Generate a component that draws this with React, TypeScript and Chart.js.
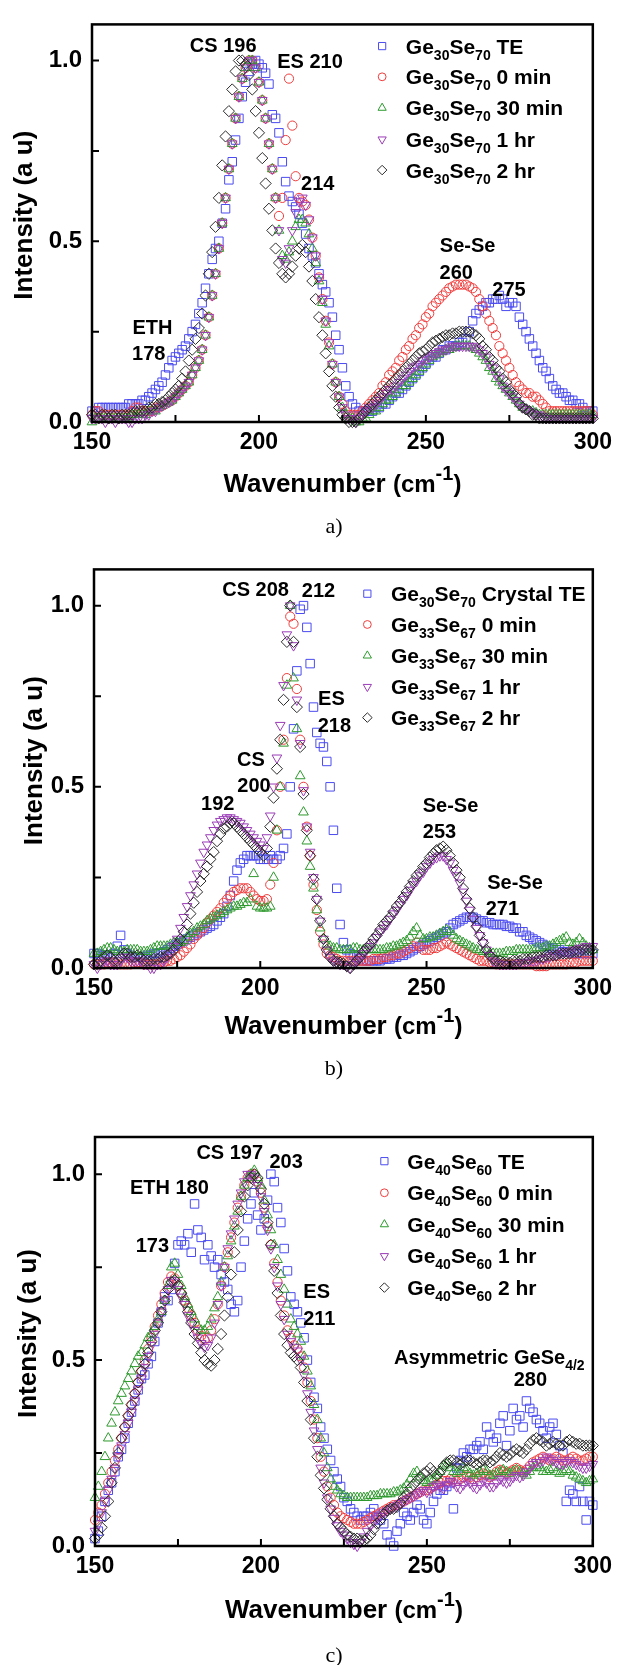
import React, { useEffect, useRef } from 'react';
import { Chart, registerables } from 'chart.js';

Chart.register(...registerables);

const FONT = "'Liberation Sans', Arial, Helvetica, sans-serif";
const SERIF = "'Liberation Serif', 'Times New Roman', serif";

// Raman shift grid (cm-1)
const WAVENUMBER = [
  150,151,152,153,154,155,156,157,158,159,160,161,162,163,164,165,166,167,168,169,
  170,171,172,173,174,175,176,177,178,179,180,181,182,183,184,185,186,187,188,189,
  190,191,192,193,194,195,196,197,198,199,200,201,202,203,204,205,206,207,208,209,
  210,211,212,213,214,215,216,217,218,219,220,221,222,223,224,225,226,227,228,229,
  230,231,232,233,234,235,236,237,238,239,240,241,242,243,244,245,246,247,248,249,
  250,251,252,253,254,255,256,257,258,259,260,261,262,263,264,265,266,267,268,269,
  270,271,272,273,274,275,276,277,278,279,280,281,282,283,284,285,286,287,288,289,
  290,291,292,293,294,295,296,297,298,299,300,
];

// ---------- Panel a : Ge30Se70 ----------
const A_TE = [
  .03,.03,.04,.04,.04,.04,.04,.04,.04,.04,
  .04,.05,.05,.05,.05,.06,.06,.07,.08,.09,
  .10,.11,.13,.15,.17,.18,.19,.20,.21,.23,
  .25,.27,.30,.33,.37,.41,.45,.48,.50,.55,
  .59,.67,.72,.78,.84,.90,.94,.97,.99,1.00,
  .99,.98,.965,.935,.85,.84,.80,.72,.665,.625,
  .61,.595,.575,.55,.52,.48,.46,.44,.41,.38,
  .36,.33,.29,.24,.20,.15,.10,.07,.05,.04,
  .03,.03,.03,.03,.03,.04,.04,.05,.05,.06,
  .07,.08,.08,.09,.10,.11,.12,.13,.14,.15,
  .16,.17,.18,.18,.19,.20,.20,.21,.21,.21,
  .22,.22,.23,.25,.28,.30,.31,.32,.33,.33,
  .34,.34,.35,.34,.32,.33,.33,.32,.29,.27,
  .25,.23,.21,.19,.17,.15,.14,.12,.10,.09,
  .08,.08,.07,.06,.06,.05,.05,.04,.03,.03,
  .03,
];
const A_0MIN = [
  .02,.03,.03,.02,.02,.02,.02,.02,.02,.02,
  .02,.02,.03,.04,.04,.03,.03,.03,.03,.04,
  .04,.045,.05,.055,.06,.07,.08,.09,.10,.11,
  .13,.15,.17,.20,.24,.29,.35,.41,.48,.55,
  .62,.70,.77,.84,.90,.95,.98,1.00,1.00,.98,
  .94,.89,.84,.77,.70,.62,.57,.62,.78,.95,
  .82,.68,.62,.61,.60,.56,.51,.46,.40,.34,
  .28,.22,.16,.11,.07,.05,.03,.02,.02,.02,
  .02,.03,.04,.05,.06,.07,.08,.10,.11,.13,
  .14,.15,.17,.18,.20,.21,.23,.24,.26,.27,
  .29,.30,.32,.33,.34,.35,.36,.37,.375,.38,
  .38,.38,.38,.375,.37,.36,.34,.32,.30,.28,
  .26,.24,.21,.19,.17,.15,.13,.11,.10,.09,
  .08,.08,.07,.07,.06,.05,.04,.03,.03,.03,
  .03,.03,.03,.03,.03,.03,.03,.03,.03,.03,
  .02,
];
const A_30MIN = [
  .00,.01,.01,.01,.01,.01,.01,.01,.01,.01,
  .01,.01,.02,.02,.02,.02,.02,.03,.03,.03,
  .04,.045,.05,.055,.06,.07,.08,.09,.10,.11,
  .13,.15,.17,.20,.24,.29,.35,.41,.48,.55,
  .62,.70,.77,.84,.90,.95,.98,1.00,1.00,.98,
  .94,.89,.84,.77,.70,.62,.53,.46,.45,.47,
  .50,.54,.56,.56,.55,.52,.48,.44,.39,.33,
  .27,.21,.16,.11,.07,.04,.02,.01,.01,.00,
  .00,.01,.01,.02,.03,.03,.04,.05,.06,.06,
  .07,.08,.09,.10,.10,.11,.12,.13,.14,.15,
  .16,.17,.18,.185,.19,.195,.20,.20,.205,.21,
  .21,.21,.21,.21,.205,.20,.19,.18,.17,.15,
  .14,.12,.11,.10,.09,.08,.07,.06,.05,.04,
  .035,.03,.03,.025,.02,.02,.02,.02,.02,.02,
  .02,.02,.02,.02,.02,.02,.02,.02,.02,.02,
  .02,
];
const A_1HR = [
  .01,.01,.01,.01,.00,.01,.01,.00,.01,.01,
  .01,.00,.00,.01,.01,.01,.02,.02,.03,.03,
  .04,.045,.05,.055,.06,.07,.08,.09,.10,.11,
  .13,.15,.17,.20,.24,.29,.35,.41,.48,.55,
  .62,.70,.77,.84,.90,.95,.98,1.00,1.00,.98,
  .94,.89,.84,.77,.70,.62,.53,.45,.44,.48,
  .53,.58,.61,.62,.60,.56,.51,.46,.40,.34,
  .28,.22,.16,.11,.07,.04,.02,.01,.01,.00,
  .01,.02,.03,.04,.04,.05,.06,.07,.08,.09,
  .09,.10,.11,.12,.13,.14,.15,.155,.16,.17,
  .175,.18,.185,.19,.195,.20,.20,.205,.21,.21,
  .21,.21,.21,.21,.21,.205,.20,.19,.18,.16,
  .15,.13,.12,.10,.09,.08,.07,.06,.05,.04,
  .035,.03,.025,.02,.02,.015,.01,.01,.01,.01,
  .01,.01,.01,.01,.01,.01,.01,.01,.01,.01,
  .01,
];
const A_2HR = [
  .02,.02,.01,.02,.02,.01,.02,.02,.01,.02,
  .02,.02,.02,.03,.03,.03,.03,.04,.04,.05,
  .05,.055,.06,.07,.08,.09,.10,.12,.14,.17,
  .20,.23,.26,.30,.35,.41,.47,.54,.62,.71,
  .79,.86,.92,.97,1.00,1.00,.99,.96,.92,.86,
  .80,.73,.66,.59,.53,.48,.44,.41,.40,.41,
  .43,.46,.48,.49,.47,.43,.39,.34,.29,.24,
  .19,.14,.10,.07,.04,.02,.01,.00,.00,.00,
  .01,.02,.03,.04,.05,.06,.07,.08,.09,.10,
  .11,.12,.13,.14,.15,.16,.17,.18,.19,.195,
  .20,.21,.22,.225,.23,.235,.24,.24,.245,.245,
  .25,.25,.25,.25,.245,.24,.23,.21,.20,.18,
  .17,.15,.14,.12,.11,.09,.08,.07,.05,.04,
  .035,.03,.02,.02,.01,.01,.01,.01,.01,.01,
  .01,.01,.01,.01,.01,.01,.01,.01,.01,.01,
  .01,
];

// ---------- Panel b : Ge30Se70 crystal / Ge33Se67 ----------
const B_TE = [
  .04,.04,.035,.035,.035,.03,.04,.06,.09,.05,
  .04,.035,.03,.03,.03,.03,.035,.035,.04,.04,
  .04,.045,.05,.055,.06,.065,.07,.075,.08,.085,
  .09,.095,.10,.105,.11,.115,.12,.13,.14,.15,
  .17,.20,.24,.27,.29,.30,.31,.31,.31,.31,
  .30,.30,.30,.31,.30,.30,.31,.33,.37,.50,
  .66,.82,.99,1.00,.94,.84,.72,.65,.62,.61,
  .57,.50,.38,.22,.12,.07,.05,.04,.035,.03,
  .025,.02,.02,.02,.02,.02,.02,.025,.025,.025,
  .03,.03,.035,.035,.04,.045,.05,.055,.06,.065,
  .07,.075,.08,.085,.09,.095,.10,.11,.12,.125,
  .13,.135,.14,.14,.14,.135,.13,.13,.125,.125,
  .12,.12,.12,.12,.115,.115,.11,.11,.10,.10,
  .09,.085,.08,.075,.07,.065,.06,.055,.055,.05,
  .05,.045,.045,.045,.04,.04,.04,.04,.04,.04,
  .04,
];
const B_0MIN = [
  .01,.01,.01,.01,.015,.015,.015,.01,.01,.01,
  .01,.01,.015,.015,.015,.01,.01,.01,.01,.01,
  .015,.015,.02,.02,.025,.03,.035,.045,.055,.065,
  .08,.09,.10,.11,.125,.135,.145,.155,.165,.18,
  .19,.20,.21,.215,.22,.22,.22,.21,.20,.19,
  .185,.185,.19,.23,.29,.38,.50,.63,.80,.97,
  .95,.77,.63,.50,.39,.31,.23,.16,.10,.065,
  .04,.035,.03,.025,.02,.02,.02,.02,.02,.02,
  .02,.02,.02,.02,.025,.025,.025,.03,.03,.035,
  .035,.04,.04,.045,.05,.055,.06,.07,.06,.05,
  .05,.05,.055,.055,.06,.065,.07,.065,.06,.055,
  .05,.045,.04,.035,.03,.025,.02,.02,.02,.015,
  .015,.01,.01,.01,.01,.01,.01,.01,.01,.01,
  .01,.01,.01,.005,.005,.005,.005,.01,.01,.01,
  .01,.01,.01,.015,.015,.015,.02,.02,.02,.02,
  .02,
];
const B_30MIN = [
  .04,.04,.045,.05,.055,.055,.05,.045,.045,.045,
  .05,.05,.05,.05,.045,.045,.045,.05,.055,.06,
  .06,.06,.06,.065,.07,.07,.07,.075,.085,.095,
  .10,.11,.115,.12,.13,.135,.14,.145,.15,.155,
  .16,.165,.17,.17,.175,.18,.18,.19,.26,.17,
  .165,.165,.165,.17,.25,.38,.50,.62,.78,1.00,
  .80,.66,.53,.43,.35,.28,.22,.16,.11,.08,
  .065,.06,.055,.055,.05,.05,.05,.05,.055,.055,
  .05,.05,.05,.05,.05,.05,.05,.05,.055,.055,
  .06,.06,.065,.07,.075,.085,.10,.11,.09,.08,
  .08,.085,.085,.09,.095,.10,.105,.10,.09,.08,
  .075,.07,.065,.06,.055,.05,.05,.045,.045,.04,
  .04,.04,.04,.04,.045,.045,.045,.05,.05,.05,
  .05,.05,.05,.055,.055,.055,.06,.06,.065,.07,
  .075,.08,.085,.07,.065,.07,.08,.07,.06,.055,
  .05,
];
const B_1HR = [
  .01,.00,.01,.02,.02,.01,.01,.01,.02,.03,
  .03,.02,.02,.02,.02,.01,.01,.00,.00,.01,
  .01,.02,.03,.04,.06,.08,.11,.14,.17,.20,
  .23,.26,.29,.32,.34,.36,.38,.395,.405,.41,
  .415,.415,.41,.405,.40,.39,.38,.37,.36,.35,
  .34,.33,.36,.42,.50,.58,.67,.78,.92,1.00,
  .89,.74,.62,.49,.39,.32,.25,.19,.13,.08,
  .05,.03,.02,.015,.01,.01,.005,.00,.01,.02,
  .03,.04,.05,.06,.07,.085,.10,.11,.12,.135,
  .15,.16,.175,.19,.20,.215,.23,.24,.255,.265,
  .28,.29,.30,.305,.31,.31,.30,.29,.27,.255,
  .235,.21,.185,.16,.135,.11,.09,.07,.05,.035,
  .02,.015,.01,.01,.01,.01,.01,.01,.015,.015,
  .015,.02,.02,.02,.025,.025,.03,.03,.035,.035,
  .04,.04,.045,.045,.05,.05,.055,.055,.06,.06,
  .06,
];
const B_2HR = [
  .01,.01,.02,.03,.035,.03,.02,.02,.03,.04,
  .04,.03,.03,.035,.03,.02,.02,.02,.025,.025,
  .03,.03,.035,.04,.05,.065,.08,.10,.12,.15,
  .18,.21,.24,.26,.28,.30,.32,.35,.37,.385,
  .39,.40,.40,.39,.38,.37,.36,.35,.34,.33,
  .32,.31,.33,.39,.47,.55,.63,.74,.90,1.00,
  .90,.72,.61,.48,.38,.31,.245,.19,.13,.08,
  .05,.03,.02,.017,.015,.012,.005,.00,.01,.02,
  .03,.045,.055,.065,.08,.09,.105,.12,.13,.14,
  .155,.17,.18,.195,.21,.225,.24,.255,.265,.28,
  .29,.305,.315,.325,.33,.335,.325,.31,.29,.27,
  .25,.22,.19,.165,.14,.115,.09,.07,.05,.035,
  .025,.02,.02,.015,.015,.015,.02,.02,.02,.025,
  .025,.025,.03,.03,.03,.03,.035,.035,.035,.035,
  .04,.04,.04,.04,.045,.045,.045,.05,.05,.05,
  .05,
];

// ---------- Panel c : Ge40Se60 ----------
const C_TE = [
  .02,.04,.08,.12,.15,.17,.20,.24,.26,.29,
  .33,.36,.39,.42,.45,.46,.49,.51,.55,.60,
  .63,.67,.66,.69,.76,.81,.82,.81,.84,.79,
  .92,.85,.83,.77,.81,.78,.75,.77,.73,.71,
  .69,.65,.63,.66,.75,.82,.88,.92,.95,.89,
  .85,.88,.93,1.00,.98,.91,.87,.80,.74,.67,
  .65,.63,.60,.56,.50,.44,.40,.37,.32,.29,
  .26,.23,.20,.18,.16,.13,.12,.10,.09,.08,
  .07,.08,.08,.09,.10,.08,.07,.06,.03,.01,
  .00,.04,.06,.09,.08,.07,.09,.11,.10,.07,
  .06,.09,.12,.14,.15,.15,.16,.17,.10,.21,
  .23,.25,.24,.26,.26,.27,.28,.26,.32,.30,
  .28,.29,.33,.35,.27,.31,.37,.34,.35,.32,
  .39,.37,.36,.34,.33,.31,.29,.32,.33,.30,
  .27,.25,.12,.15,.14,.12,.16,.12,.07,.12,
  .11,
];
const C_0MIN = [
  .07,.09,.11,.14,.17,.20,.23,.26,.29,.32,
  .35,.38,.41,.44,.47,.50,.53,.56,.59,.62,
  .65,.68,.71,.725,.72,.70,.68,.66,.64,.62,
  .60,.58,.565,.555,.56,.58,.61,.65,.70,.75,
  .79,.83,.87,.91,.94,.97,.99,1.00,1.00,.98,
  .95,.91,.86,.81,.76,.71,.66,.62,.58,.56,
  .54,.53,.51,.48,.44,.39,.34,.29,.24,.20,
  .16,.13,.11,.09,.08,.075,.07,.065,.06,.06,
  .06,.065,.07,.075,.08,.085,.09,.095,.10,.105,
  .11,.11,.115,.12,.125,.13,.135,.14,.145,.15,
  .15,.155,.16,.165,.17,.175,.175,.18,.18,.175,
  .18,.185,.19,.185,.18,.185,.19,.195,.19,.185,
  .19,.20,.205,.20,.195,.20,.205,.21,.205,.20,
  .205,.215,.225,.23,.235,.24,.235,.23,.235,.24,
  .235,.23,.23,.235,.24,.235,.23,.23,.235,.24,
  .24,
];
const C_30MIN = [
  .13,.16,.20,.24,.29,.33,.36,.39,.41,.43,
  .45,.47,.49,.51,.52,.54,.56,.57,.59,.61,
  .63,.66,.70,.75,.76,.73,.70,.67,.65,.63,
  .61,.59,.58,.58,.59,.61,.64,.67,.71,.75,
  .78,.82,.86,.90,.94,.97,.99,1.00,1.01,.99,
  .97,.93,.89,.85,.81,.77,.73,.69,.65,.61,
  .59,.57,.55,.51,.47,.43,.38,.34,.29,.25,
  .21,.18,.16,.15,.14,.135,.13,.13,.13,.13,
  .13,.13,.13,.135,.135,.135,.14,.14,.14,.14,
  .145,.145,.15,.155,.165,.18,.195,.20,.185,.175,
  .17,.175,.18,.19,.20,.215,.22,.21,.20,.195,
  .20,.21,.205,.195,.19,.195,.20,.205,.20,.19,
  .19,.195,.20,.205,.20,.195,.20,.205,.20,.195,
  .19,.20,.21,.215,.21,.20,.20,.205,.21,.20,
  .195,.20,.205,.20,.19,.185,.18,.175,.17,.175,
  .18,
];
const C_1HR = [
  .04,.06,.09,.12,.15,.18,.21,.24,.27,.30,
  .33,.36,.39,.42,.45,.48,.51,.54,.57,.60,
  .63,.66,.69,.715,.71,.69,.67,.65,.62,.60,
  .58,.56,.545,.535,.54,.56,.60,.65,.70,.75,
  .80,.84,.88,.92,.95,.98,1.00,1.00,.99,.97,
  .94,.90,.85,.80,.75,.70,.65,.61,.57,.55,
  .535,.525,.50,.46,.41,.36,.31,.26,.21,.17,
  .13,.10,.075,.055,.04,.03,.02,.01,.005,.00,
  .01,.025,.04,.055,.065,.075,.08,.09,.095,.10,
  .105,.11,.115,.12,.125,.13,.135,.14,.145,.15,
  .145,.15,.16,.165,.16,.155,.165,.175,.17,.16,
  .155,.165,.175,.17,.16,.155,.165,.175,.17,.16,
  .16,.17,.18,.175,.17,.175,.185,.19,.185,.19,
  .20,.21,.22,.225,.225,.23,.24,.235,.23,.225,
  .22,.22,.225,.23,.225,.22,.215,.21,.21,.215,
  .22,
];
const C_2HR = [
  .02,.03,.05,.08,.12,.17,.21,.25,.29,.32,
  .35,.38,.41,.44,.47,.49,.52,.55,.58,.60,
  .63,.66,.69,.71,.715,.70,.68,.655,.63,.60,
  .57,.545,.52,.50,.49,.485,.50,.53,.57,.62,
  .67,.73,.79,.85,.90,.94,.97,.99,1.00,.99,
  .96,.92,.87,.81,.74,.68,.62,.57,.54,.52,
  .51,.50,.48,.44,.39,.34,.29,.24,.19,.155,
  .125,.10,.08,.06,.05,.04,.03,.025,.02,.02,
  .015,.015,.02,.03,.045,.06,.07,.085,.095,.10,
  .10,.105,.115,.13,.14,.155,.165,.175,.185,.195,
  .20,.21,.20,.19,.20,.215,.225,.23,.23,.225,
  .22,.225,.23,.23,.225,.22,.225,.23,.23,.225,
  .23,.24,.25,.245,.24,.245,.255,.26,.255,.25,
  .26,.275,.285,.29,.285,.28,.27,.275,.28,.275,
  .27,.27,.28,.285,.28,.275,.275,.27,.27,.27,
  .27,
];

// ---------- axes ----------
const X_RANGE = [150, 300];
const Y_RANGE = [0, 1.1];
const X_TICKS = [150, 200, 250, 300];
const X_MINOR_TICKS = [175, 225, 275];
const Y_TICKS = [0, 0.5, 1.0];
const Y_MINOR_TICKS = [0.25, 0.75];

// ---------- legend labels: [Ge index, Se index, suffix] ----------
const A_LEGEND = [
  ['30', '70', ' TE'], ['30', '70', ' 0 min'], ['30', '70', ' 30 min'], ['30', '70', ' 1 hr'], ['30', '70', ' 2 hr'],
];
const B_LEGEND = [
  ['30', '70', ' Crystal TE'], ['33', '67', ' 0 min'], ['33', '67', ' 30 min'], ['33', '67', ' 1 hr'], ['33', '67', ' 2 hr'],
];
const C_LEGEND = [
  ['40', '60', ' TE'], ['40', '60', ' 0 min'], ['40', '60', ' 30 min'], ['40', '60', ' 1 hr'], ['40', '60', ' 2 hr'],
];

// ---------- peak annotations (text, anchored in data coordinates) ----------
const A_NOTES = [
  { text: 'CS 196', x: 189.3, y: 1.043 },
  { text: 'ES 210', x: 215.3, y: 0.998 },
  { text: '214', x: 217.6, y: 0.66 },
  { text: 'ETH', x: 168.1, y: 0.263 },
  { text: '178', x: 167.0, y: 0.19 },
  { text: 'Se-Se', x: 262.5, y: 0.49 },
  { text: '260', x: 259.1, y: 0.416 },
  { text: '275', x: 274.9, y: 0.367 },
];
const B_NOTES = [
  { text: 'CS 208', x: 198.6, y: 1.046 },
  { text: '212', x: 217.5, y: 1.042 },
  { text: 'ES', x: 221.4, y: 0.744 },
  { text: '218', x: 222.3, y: 0.67 },
  { text: 'CS', x: 197.2, y: 0.578 },
  { text: '200', x: 198.1, y: 0.506 },
  { text: '192', x: 187.2, y: 0.454 },
  { text: 'Se-Se', x: 257.2, y: 0.45 },
  { text: '253', x: 253.9, y: 0.379 },
  { text: 'Se-Se', x: 276.6, y: 0.236 },
  { text: '271', x: 272.8, y: 0.166 },
];
const C_NOTES = [
  { text: 'CS 197', x: 190.6, y: 1.06 },
  { text: '203', x: 207.6, y: 1.035 },
  { text: 'ETH 180', x: 172.4, y: 0.965 },
  { text: '173', x: 167.3, y: 0.81 },
  { text: 'ES', x: 216.8, y: 0.685 },
  { text: '211', x: 217.6, y: 0.613 },
  { text: 'Asymmetric GeSe', sub: '4/2', x: 268.8, y: 0.508 },
  { text: '280', x: 281.2, y: 0.45 },
];

const SERIES_LOOK = [
  { color: '#4b4bf0', shape: 'rect', radius: 6, rotation: 0 },
  { color: '#f03c3c', shape: 'circle', radius: 4.6, rotation: 0 },
  { color: '#2e9a2e', shape: 'triangle', radius: 5.6, rotation: 0 },
  { color: '#9a3cb6', shape: 'triangle', radius: 5.6, rotation: 180 },
  { color: '#2a2a2a', shape: 'rectRot', radius: 5.6, rotation: 0 },
];

const PANELS = [
  {
    caption: 'a)', canvasTop: 0, canvasHeight: 545,
    plot: { left: 92, right: 597, top: 10, bottom: 422 },
    series: [A_TE, A_0MIN, A_30MIN, A_1HR, A_2HR],
    legend: A_LEGEND, legendX: 236.9, legendTextX: 244.0, legendRows: [1.04, 0.955, 0.869, 0.782, 0.697],
    notes: A_NOTES, yTitleX: 25, titleDy: 60, captionDy: 105,
  },
  {
    caption: 'b)', canvasTop: 545, canvasHeight: 545,
    plot: { left: 94, right: 597, top: 557, bottom: 968 },
    series: [B_TE, B_0MIN, B_30MIN, B_1HR, B_2HR],
    legend: B_LEGEND, legendX: 232.2, legendTextX: 239.3, legendRows: [1.033, 0.948, 0.862, 0.776, 0.691],
    notes: B_NOTES, yTitleX: 35, titleDy: 56, captionDy: 101,
  },
  {
    caption: 'c)', canvasTop: 1090, canvasHeight: 575,
    plot: { left: 95, right: 597, top: 1137, bottom: 1546 },
    series: [C_TE, C_0MIN, C_30MIN, C_1HR, C_2HR],
    legend: C_LEGEND, legendX: 237.2, legendTextX: 244.1, legendRows: [1.035, 0.95, 0.865, 0.78, 0.695],
    notes: C_NOTES, yTitleX: 29, titleDy: 62, captionDy: 110,
  },
];

const X_AXIS_H = 40;

type Part = { t: string; size: number; dy: number };

function drawRich(ctx: CanvasRenderingContext2D, parts: Part[], x: number, y: number, align: 'left' | 'center') {
  ctx.textAlign = 'left';
  ctx.textBaseline = 'alphabetic';
  const widths = parts.map((p) => {
    ctx.font = `bold ${p.size}px ${FONT}`;
    return ctx.measureText(p.t).width;
  });
  const total = widths.reduce((s, w) => s + w, 0);
  let cx = align === 'center' ? x - total / 2 : x;
  parts.forEach((p, i) => {
    ctx.font = `bold ${p.size}px ${FONT}`;
    ctx.fillText(p.t, cx, y + p.dy);
    cx += widths[i];
  });
}

function drawMarker(ctx: CanvasRenderingContext2D, shape: string, rotation: number, r: number, x: number, y: number) {
  ctx.beginPath();
  if (shape === 'rect') {
    const h = r * Math.SQRT1_2;
    ctx.rect(x - h, y - h, 2 * h, 2 * h);
  } else if (shape === 'circle') {
    ctx.arc(x, y, r, 0, Math.PI * 2);
  } else if (shape === 'triangle') {
    const s = rotation === 180 ? -1 : 1;
    ctx.moveTo(x, y - s * r);
    ctx.lineTo(x + 0.866 * r, y + s * 0.5 * r);
    ctx.lineTo(x - 0.866 * r, y + s * 0.5 * r);
    ctx.closePath();
  } else {
    ctx.moveTo(x, y - r);
    ctx.lineTo(x + r, y);
    ctx.lineTo(x, y + r);
    ctx.lineTo(x - r, y);
    ctx.closePath();
  }
  ctx.stroke();
}

function makeDecor(p: any) {
  return {
    id: 'decor',
    afterDatasetsDraw(chart: any) {
      const { ctx, chartArea: a, scales } = chart;
      const xs = scales.x;
      const ys = scales.y;
      ctx.save();
      // frame
      ctx.strokeStyle = '#000';
      ctx.lineWidth = 2.5;
      ctx.strokeRect(a.left, a.top, a.right - a.left, a.bottom - a.top);
      // inward ticks
      ctx.lineWidth = 2;
      ctx.beginPath();
      [...X_TICKS, ...X_MINOR_TICKS].forEach((v) => {
        const px = xs.getPixelForValue(v);
        ctx.moveTo(px, a.bottom);
        ctx.lineTo(px, a.bottom - 7);
      });
      [...Y_TICKS, ...Y_MINOR_TICKS].forEach((v) => {
        const py = ys.getPixelForValue(v);
        ctx.moveTo(a.left, py);
        ctx.lineTo(a.left + 7, py);
      });
      ctx.stroke();

      // annotations
      ctx.fillStyle = '#000';
      p.notes.forEach((n: any) => {
        const px = xs.getPixelForValue(n.x);
        const py = ys.getPixelForValue(n.y) + 7;
        const parts: Part[] = [{ t: n.text, size: 20, dy: 0 }];
        if (n.sub) parts.push({ t: n.sub, size: 14, dy: 6 });
        drawRich(ctx, parts, px, py, 'center');
      });

      // legend
      p.legend.forEach((lab: string[], i: number) => {
        const look = SERIES_LOOK[i];
        const py = ys.getPixelForValue(p.legendRows[i]);
        ctx.strokeStyle = look.color;
        ctx.lineWidth = 1;
        drawMarker(ctx, look.shape, look.rotation, look.radius * 0.85, xs.getPixelForValue(p.legendX), py);
        ctx.fillStyle = '#000';
        drawRich(ctx, [
          { t: 'Ge', size: 21, dy: 0 },
          { t: lab[0], size: 14, dy: 6 },
          { t: 'Se', size: 21, dy: 0 },
          { t: lab[1], size: 14, dy: 6 },
          { t: lab[2], size: 21, dy: 0 },
        ], xs.getPixelForValue(p.legendTextX), py + 7.5, 'left');
      });

      // x axis title
      ctx.fillStyle = '#000';
      const midX = (a.left + a.right) / 2;
      drawRich(ctx, [
        { t: 'Wavenumber ', size: 26, dy: 0 },
        { t: '(cm', size: 24, dy: 0 },
        { t: '-1', size: 20, dy: -12 },
        { t: ')', size: 24, dy: 0 },
      ], midX, a.bottom + p.titleDy + 9.5, 'center');

      // y axis title
      ctx.save();
      ctx.translate(p.yTitleX, (a.top + a.bottom) / 2 - 8);
      ctx.rotate(-Math.PI / 2);
      ctx.font = `bold 26px ${FONT}`;
      ctx.textAlign = 'center';
      ctx.textBaseline = 'middle';
      ctx.fillText('Intensity (a u)', 0, 0);
      ctx.restore();

      // caption
      ctx.font = `22px ${SERIF}`;
      ctx.textAlign = 'center';
      ctx.textBaseline = 'middle';
      ctx.fillText(p.caption, 334, a.bottom + p.captionDy);
      ctx.restore();
    },
  };
}

function Panel({ p }: { p: any }) {
  const ref = useRef<HTMLCanvasElement | null>(null);
  useEffect(() => {
    const canvas = ref.current;
    if (!canvas) return;
    const datasets = p.series.map((vals: (number | null)[], i: number) => {
      const look = SERIES_LOOK[i];
      return {
        label: 'S' + i,
        data: WAVENUMBER.map((x, j) => ({ x, y: vals[j] })).filter((d) => d.y !== null && d.y !== undefined),
        showLine: false,
        pointStyle: look.shape,
        pointRadius: look.radius,
        pointRotation: look.rotation,
        pointBorderColor: look.color,
        pointBackgroundColor: 'rgba(0,0,0,0)',
        pointBorderWidth: 1,
        borderColor: look.color,
        backgroundColor: 'rgba(0,0,0,0)',
        order: 4 - i,
        clip: false,
      };
    });
    const top = p.plot.top - p.canvasTop;
    const bottomPad = p.canvasTop + p.canvasHeight - p.plot.bottom - X_AXIS_H;
    const chart = new Chart(canvas, {
      type: 'scatter',
      data: { datasets },
      options: {
        responsive: false,
        animation: false,
        devicePixelRatio: 1,
        events: [],
        layout: { padding: { left: 0, right: 619 - p.plot.right, top, bottom: bottomPad } },
        plugins: { legend: { display: false }, tooltip: { enabled: false }, title: { display: false } },
        scales: {
          x: {
            type: 'linear',
            position: 'bottom',
            min: X_RANGE[0],
            max: X_RANGE[1],
            grid: { display: false, drawTicks: false },
            border: { display: false },
            ticks: {
              color: '#000',
              font: { family: FONT, size: 23, weight: 'bold' },
              padding: 7,
              maxRotation: 0,
              autoSkip: false,
              callback: (v: any) => String(v),
            },
            afterBuildTicks: (s: any) => {
              s.ticks = X_TICKS.map((v) => ({ value: v }));
            },
            afterFit: (s: any) => {
              s.height = X_AXIS_H;
            },
          },
          y: {
            type: 'linear',
            position: 'left',
            min: Y_RANGE[0],
            max: Y_RANGE[1],
            grid: { display: false, drawTicks: false },
            border: { display: false },
            ticks: {
              color: '#000',
              font: { family: FONT, size: 24, weight: 'bold' },
              padding: 10,
              autoSkip: false,
              callback: (v: any) => Number(v).toFixed(1),
            },
            afterBuildTicks: (s: any) => {
              s.ticks = Y_TICKS.map((v) => ({ value: v }));
            },
            afterFit: (s: any) => {
              s.width = p.plot.left;
            },
          },
        },
      },
      plugins: [makeDecor(p)],
    } as any);
    return () => chart.destroy();
  }, [p]);
  return (
    <canvas
      ref={ref}
      width={619}
      height={p.canvasHeight}
      style={{ position: 'absolute', left: 0, top: p.canvasTop, width: 619, height: p.canvasHeight, display: 'block' }}
    />
  );
}

export default function App() {
  return (
    <div style={{ position: 'absolute', left: 0, top: 0, width: 619, height: 1665, background: '#fff', overflow: 'hidden' }}>
      {PANELS.map((p) => (
        <Panel key={p.caption} p={p} />
      ))}
    </div>
  );
}
